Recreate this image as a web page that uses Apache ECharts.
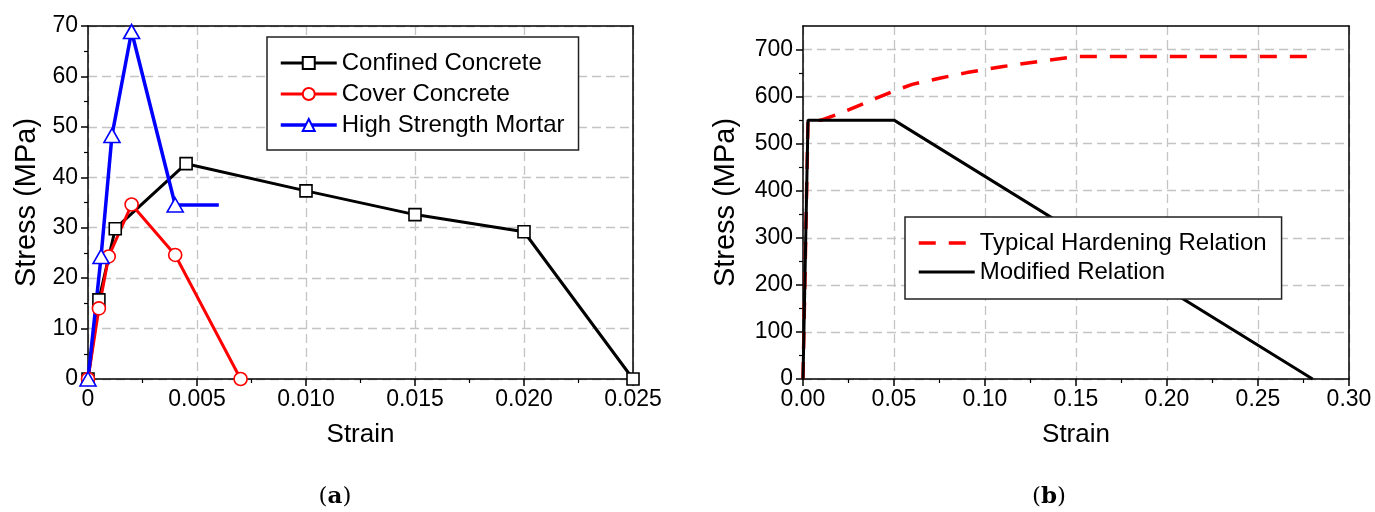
<!DOCTYPE html>
<html>
<head>
<meta charset="utf-8">
<script src="https://cdn.jsdelivr.net/npm/echarts@6/dist/echarts.min.js"></script>
<style>
  html, body { margin: 0; padding: 0; background: #fff; }
  #chart { width: 1375px; height: 512px; }
</style>
</head>
<body>
<div id="chart"></div>
<script>
// (a) concrete / mortar stress-strain curves: [strain, stress MPa]
const confinedConcrete = [[0, 0], [0.0005, 15.7], [0.00125, 29.8], [0.0045, 42.7], [0.010, 37.3], [0.015, 32.6], [0.020, 29.2], [0.025, 0]];
const coverConcrete = [[0, 0], [0.0005, 14.0], [0.00095, 24.3], [0.002, 34.6], [0.004, 24.6], [0.007, 0]];
const highStrengthMortar = [[0, 0], [0.0006, 24.3], [0.0011, 48.3], [0.002, 68.9], [0.004, 34.5], [0.006, 34.5]];

// (b) steel stress-strain relations: [strain, stress MPa]
const typicalHardening = [[0, 0], [0.00275, 550], [0.01, 550], [0.02, 564], [0.03, 580], [0.04, 596], [0.05, 612], [0.06, 626], [0.075, 639], [0.09, 651], [0.11, 664], [0.13, 675], [0.15, 685], [0.28, 685]];
const modifiedRelation = [[0, 0], [0.00275, 550], [0.05, 550], [0.28, 0]];

// axis ranges [min, max, interval]
const axisA_x = [0, 0.025, 0.005];
const axisA_y = [0, 70, 10];
const axisB_x = [0, 0.30, 0.05];
const axisB_y = [0, 750, 100];

// stress ticks of panel (b): labelled majors and the minors between them
const stressTicksB = [0, 100, 200, 300, 400, 500, 600, 700];
const stressMinorTicksB = [50, 150, 250, 350, 450, 550, 650];

const seriesNamesA = ['Confined Concrete', 'Cover Concrete', 'High Strength Mortar'];
const seriesNamesB = ['Typical Hardening Relation', 'Modified Relation'];
const axisTitles = { x: 'Strain', y: 'Stress (MPa)' };
const captions = ['a', 'b'];

const FONT = 'Liberation Sans, Arial, sans-serif';
const SERIF = 'DejaVu Serif, serif';

const lineWidthsA = [3, 3, 3.5];
const lineWidthsB = [3.5, 3];

function valueAxis(gridIndex, range, opts) {
  return Object.assign({
    gridIndex: gridIndex,
    type: 'value',
    min: range[0],
    max: range[1],
    interval: range[2],
    nameLocation: 'middle',
    nameTextStyle: { fontSize: 26, color: '#000', fontFamily: FONT },
    axisLine: { show: true, onZero: false, lineStyle: { color: '#000', width: 1.5 } },
    axisTick: { show: true, inside: false, length: 7, lineStyle: { color: '#000', width: 1.5 } },
    minorTick: { show: true, splitNumber: 2, length: 4, lineStyle: { color: '#000', width: 1.2 } },
    minorSplitLine: { show: false },
    splitLine: { show: true, lineStyle: { color: '#c4c4c4', width: 1.3, type: [9, 5] } },
    axisLabel: { fontSize: 23, color: '#000', fontFamily: FONT }
  }, opts);
}

// plain axis on the opposite side to close the plot frame
function frameAxis(kind, gridIndex, range) {
  return {
    gridIndex: gridIndex,
    type: 'value',
    min: range[0],
    max: range[1],
    position: kind === 'x' ? 'top' : 'right',
    axisLine: { show: true, onZero: false, lineStyle: { color: '#000', width: 1.5 } },
    axisTick: { show: false },
    axisLabel: { show: false },
    splitLine: { show: false }
  };
}

const fmtA = v => (v === 0 ? '0' : v.toFixed(3));
const fmtB = v => v.toFixed(2);

function markedLine(name, data, color, symbol, symbolSize, width, xi, yi, unmarkedLast) {
  return {
    name: name,
    type: 'line',
    xAxisIndex: xi,
    yAxisIndex: yi,
    data: data.map((p, i) => (unmarkedLast && i === data.length - 1)
      ? { value: p, symbol: 'none' }
      : { value: p }),
    symbol: symbol,
    symbolSize: symbolSize,
    showAllSymbol: true,
    color: color,
    lineStyle: { color: color, width: width },
    itemStyle: { color: '#fff', borderColor: color, borderWidth: 1.6 },
    emphasis: { disabled: true },
    animation: false
  };
}

const legendText = { fontSize: 24, color: '#000', fontFamily: FONT };
const captionRich = {
  p: { fontSize: 23, fontFamily: SERIF, fill: '#000' },
  b: { fontSize: 23, fontFamily: SERIF, fontWeight: 'bold', fill: '#000' }
};

const option = {
  animation: false,
  backgroundColor: '#fff',
  grid: [
    { left: 88, top: 26, width: 545, height: 353, outerBoundsMode: 'none', containLabel: false },
    { left: 803, top: 26, width: 546, height: 353, outerBoundsMode: 'none', containLabel: false }
  ],
  xAxis: [
    valueAxis(0, axisA_x, { name: axisTitles.x, nameGap: 43, axisLabel: { fontSize: 23, color: '#000', fontFamily: FONT, margin: 9, formatter: fmtA } }),
    valueAxis(1, axisB_x, { name: axisTitles.x, nameGap: 43, axisLabel: { fontSize: 23, color: '#000', fontFamily: FONT, margin: 9, formatter: fmtB } }),
    frameAxis('x', 0, axisA_x),
    frameAxis('x', 1, axisB_x)
  ],
  yAxis: [
    valueAxis(0, axisA_y, {
      name: axisTitles.y, nameGap: 47,
      nameTextStyle: { fontSize: 29, color: '#000', fontFamily: FONT },
      axisLabel: { fontSize: 23, color: '#000', fontFamily: FONT, margin: 10 }
    }),
    valueAxis(1, axisB_y, {
      name: axisTitles.y, nameGap: 63,
      nameTextStyle: { fontSize: 29, color: '#000', fontFamily: FONT },
      axisTick: { show: true, inside: false, length: 7, customValues: stressTicksB, lineStyle: { color: '#000', width: 1.5 } },
      minorTick: { show: false },
      axisLabel: { fontSize: 23, color: '#000', fontFamily: FONT, margin: 10, customValues: stressTicksB }
    }),
    frameAxis('y', 0, axisA_y),
    frameAxis('y', 1, axisB_y),
    {
      // minor ticks of panel (b) stress axis
      gridIndex: 1,
      type: 'value',
      min: axisB_y[0],
      max: axisB_y[1],
      position: 'left',
      offset: 0,
      axisLine: { show: false },
      axisTick: { show: true, inside: false, length: 4, customValues: stressMinorTicksB, lineStyle: { color: '#000', width: 1.2 } },
      axisLabel: { show: false },
      splitLine: { show: false }
    }
  ],
  legend: [
    {
      data: seriesNamesA.map((n, i) => ({ name: n, lineStyle: { width: lineWidthsA[i] } })),
      orient: 'vertical',
      left: 267,
      top: 37,
      padding: [14, 14, 13, 12],
      itemGap: 7,
      itemWidth: 56,
      itemHeight: 15,
      backgroundColor: '#fff',
      borderColor: '#222',
      borderWidth: 1.5,
      borderRadius: 0,
      textStyle: legendText,
      selectedMode: false
    },
    {
      data: seriesNamesB.map((n, i) => ({ name: n, itemStyle: { opacity: 0 }, lineStyle: { width: lineWidthsB[i] } })),
      orient: 'vertical',
      left: 905,
      top: 217,
      padding: [14, 15, 15, 12],
      itemGap: 5,
      itemWidth: 56,
      itemHeight: 15,
      backgroundColor: '#fff',
      borderColor: '#222',
      borderWidth: 1.5,
      borderRadius: 0,
      textStyle: legendText,
      selectedMode: false
    }
  ],
  series: [
    markedLine(seriesNamesA[0], confinedConcrete, '#000', 'rect', 12, lineWidthsA[0], 0, 0, false),
    markedLine(seriesNamesA[1], coverConcrete, '#ff0000', 'circle', 13, lineWidthsA[1], 0, 0, false),
    markedLine(seriesNamesA[2], highStrengthMortar, '#0000ff', 'triangle', [16, 14], lineWidthsA[2], 0, 0, true),
    {
      name: seriesNamesB[0],
      type: 'line',
      xAxisIndex: 1,
      yAxisIndex: 1,
      data: typicalHardening,
      symbol: 'none',
      color: '#ff0000',
      lineStyle: { color: '#ff0000', width: lineWidthsB[0], type: [17, 13] },
      emphasis: { disabled: true },
      animation: false
    },
    {
      name: seriesNamesB[1],
      type: 'line',
      xAxisIndex: 1,
      yAxisIndex: 1,
      data: modifiedRelation,
      symbol: 'none',
      color: '#000',
      lineStyle: { color: '#000', width: lineWidthsB[1] },
      emphasis: { disabled: true },
      animation: false
    }
  ],
  graphic: [
    {
      type: 'text',
      x: 335, y: 497,
      style: { text: '{p|(}{b|' + captions[0] + '}{p|)}', align: 'center', verticalAlign: 'middle', rich: captionRich }
    },
    {
      type: 'text',
      x: 1049, y: 497,
      style: { text: '{p|(}{b|' + captions[1] + '}{p|)}', align: 'center', verticalAlign: 'middle', rich: captionRich }
    }
  ]
};

const chart = echarts.init(document.getElementById('chart'), null, { renderer: 'canvas' });
chart.setOption(option);
</script>
</body>
</html>
